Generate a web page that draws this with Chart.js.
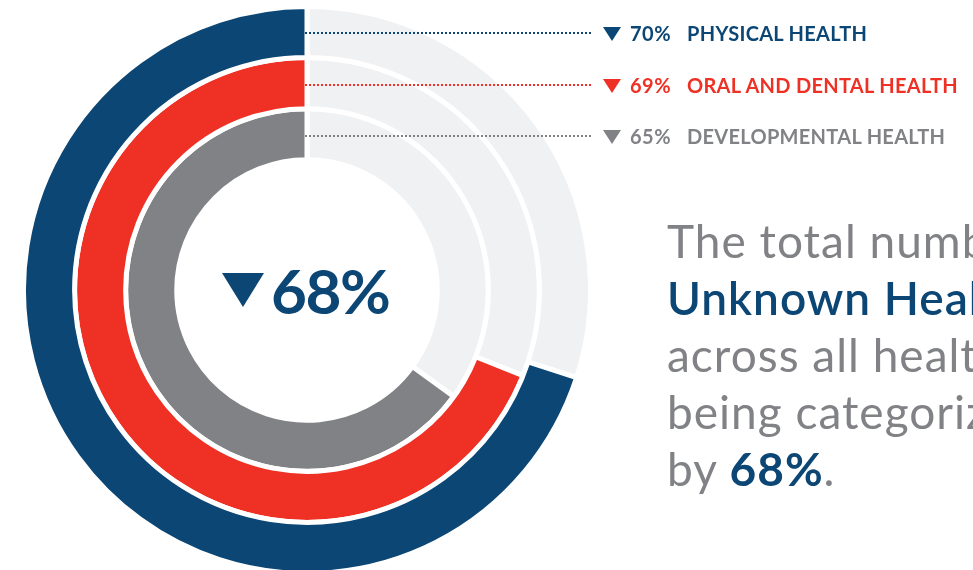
<!DOCTYPE html>
<html>
<head>
<meta charset="utf-8">
<script src="https://cdn.jsdelivr.net/npm/chart.js@4.4.0/dist/chart.umd.min.js"></script>
<style>
  html, body { margin: 0; padding: 0; width: 973px; height: 570px; overflow: hidden; background: #fff; }
  #wrap { position: relative; width: 973px; height: 570px; overflow: hidden; font-family: Lato, 'Open Sans', sans-serif; }
  #rings { position: absolute; left: 0; top: 0; }
  .row { position: absolute; left: 0; height: 24px; width: 973px; }
  .dots { position: absolute; left: 305px; width: 286px; top: 11px; border-top: 2px dotted; }
  .tri { position: absolute; width: 0; height: 0; border-left: 9px solid transparent; border-right: 9px solid transparent; border-top: 14px solid; }
  .row .tri { left: 603px; top: 6px; }
  .pct, .lbl { position: absolute; top: 0; line-height: 24px; font-size: 20px; font-weight: 700; white-space: nowrap; }
  .pct { left: 630px; letter-spacing: 0.5px; }
  .lbl { left: 687px; letter-spacing: 0.3px; }
  #center { position: absolute; left: 222px; top: 258px; height: 64px; }
  #center .tri { left: 0; top: 15px; border-left-width: 21px; border-right-width: 21px; border-top-width: 34px; border-top-color: #0b4674; }
  #center .big { position: absolute; left: 49px; top: 0; line-height: 64px; font-size: 62px; font-weight: 700; letter-spacing: -1.5px; color: #0b4674; white-space: nowrap; }
  #para { position: absolute; left: 667px; top: 212px; font-size: 46px; line-height: 57px; letter-spacing: 1px; color: #818286; white-space: nowrap; }
  #para b { color: #0b4674; font-weight: 700; }
  #para b.lead { font-weight: 600; }
</style>
</head>
<body>
<div id="wrap">
  <canvas id="rings" width="973" height="570"></canvas>
  <div id="legend"></div>
  <div id="center"><span class="tri"></span><span class="big"></span></div>
  <div id="para">The total number of<br><b class="lead">Unknown Health Status</b><br>across all health domains<br>being categorized decreased<br>by <b class="overall"></b>.</div>
</div>
<script>
// decrease in unknown health status, per domain (outer ring first)
const categories = ['PHYSICAL HEALTH', 'ORAL AND DENTAL HEALTH', 'DEVELOPMENTAL HEALTH'];
const decreases = [70, 69, 65];
const overallDecrease = 68;

const ringColors = ['#0b4674', '#ee3124', '#818286'];
const trackColor = '#f0f1f3';
const rowCenters = [33, 85, 136];

// legend rows with dotted leaders back to the top of each ring
const legend = document.getElementById('legend');
categories.forEach((name, i) => {
  const row = document.createElement('div');
  row.className = 'row';
  row.style.top = (rowCenters[i] - 12) + 'px';
  row.style.color = ringColors[i];
  row.innerHTML =
    '<span class="dots" style="border-top-color:' + ringColors[i] + '"></span>' +
    '<span class="tri" style="border-top-color:' + ringColors[i] + '"></span>' +
    '<span class="pct">' + decreases[i] + '%</span>' +
    '<span class="lbl">' + name + '</span>';
  legend.appendChild(row);
});

document.querySelector('#center .big').textContent = overallDecrease + '%';
document.querySelector('#para .overall').textContent = overallDecrease + '%';

// each ring: grey track clockwise from 12 o'clock, coloured share for the rest
const datasets = decreases.map((v, i) => ({
  label: categories[i],
  data: [100 - v, v],
  backgroundColor: [trackColor, ringColors[i]],
  borderColor: '#ffffff',
  borderWidth: 5,
  hoverOffset: 0
}));

new Chart(document.getElementById('rings'), {
  type: 'doughnut',
  data: { labels: ['remaining', 'decrease'], datasets },
  options: {
    responsive: false,
    animation: false,
    radius: 283.5,
    cutout: 127.5,
    layout: { padding: { left: 0, right: 359, top: 10, bottom: 0 } },
    plugins: { legend: { display: false }, tooltip: { enabled: false } }
  }
});
</script>
</body>
</html>
